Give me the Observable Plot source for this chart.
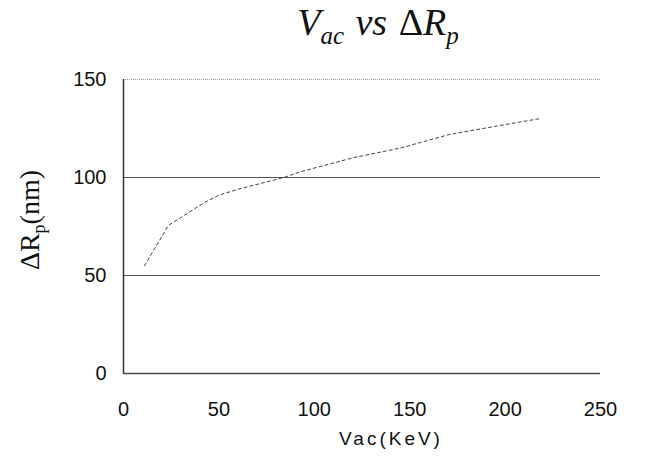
<!DOCTYPE html>
<html>
<head>
<meta charset="utf-8">
<script src="https://cdn.jsdelivr.net/npm/d3@7"></script>
<script src="https://cdn.jsdelivr.net/npm/@observablehq/plot@0.6"></script>
<style>
  html, body { margin: 0; padding: 0; background: #fff; }
  #wrap { position: relative; width: 667px; height: 468px; overflow: hidden; }
  #title { position: absolute; left: 0; width: 756px; top: 0px; text-align: center;
    font-family: "Liberation Serif", "DejaVu Serif", serif; font-style: italic; font-size: 38px; color: #111; white-space: nowrap; word-spacing: 2px; }
  #title sub { font-size: 25px; vertical-align: -9px; }
  #title .up { font-style: normal; }
  #ytitle { position: absolute; left: 32px; top: 220px; transform: translate(-50%, -50%) rotate(-90deg);
    font-family: "Liberation Serif", "DejaVu Serif", serif; font-size: 28px; color: #111; white-space: nowrap; }
  #ytitle sub { font-size: 18px; vertical-align: -6px; }
  #xtitle { position: absolute; left: 0; width: 782px; top: 428px; text-align: center;
    font-family: "Liberation Sans", Arial, sans-serif; font-size: 19px; letter-spacing: 3px; color: #111; }
  svg { position: absolute; left: 0; top: 0; }
</style>
</head>
<body>
<div id="wrap">
  <div id="chart"></div>
  <div id="title">V<sub>ac</sub> vs <span class="up">Δ</span>R<sub>p</sub></div>
  <div id="ytitle">ΔR<sub>p</sub>(nm)</div>
  <div id="xtitle">Vac(KeV)</div>
</div>
<script>
const vac = [11, 23.5, 42, 50, 60, 84, 93, 120, 145, 171, 200, 218];
const deltaRp = [55, 75.5, 87, 91, 94, 100, 103, 110, 115, 122, 127, 130];
const xTicks = [0, 50, 100, 150, 200, 250];
const yTicks = [0, 50, 100, 150];
const gridLevels = [50, 100];

const data = vac.map((v, i) => ({x: v, y: deltaRp[i]}));

const chart = Plot.plot({
  width: 667,
  height: 468,
  marginLeft: 123,
  marginRight: 67,
  marginTop: 79,
  marginBottom: 95,
  style: {fontFamily: "'Liberation Sans', Arial, sans-serif", fontSize: "20px", color: "#111", background: "white"},
  x: {domain: [0, 250], ticks: xTicks, tickSize: 0, tickPadding: 28, label: null},
  y: {domain: [0, 150], ticks: yTicks, tickSize: 0, tickPadding: 17, label: null},
  marks: [
    Plot.ruleY(gridLevels, {stroke: "#555", strokeWidth: 1}),
    Plot.ruleY([150], {stroke: "#999", strokeWidth: 1, strokeDasharray: "1,1"}),
    Plot.ruleX([0], {stroke: "#333", strokeWidth: 1.5}),
    Plot.ruleY([0], {stroke: "#444", strokeWidth: 1.5}),
    Plot.line(data, {x: "x", y: "y", stroke: "#444", strokeWidth: 1, strokeDasharray: "3,3"})
  ]
});
document.getElementById("chart").appendChild(chart);
</script>
</body>
</html>
